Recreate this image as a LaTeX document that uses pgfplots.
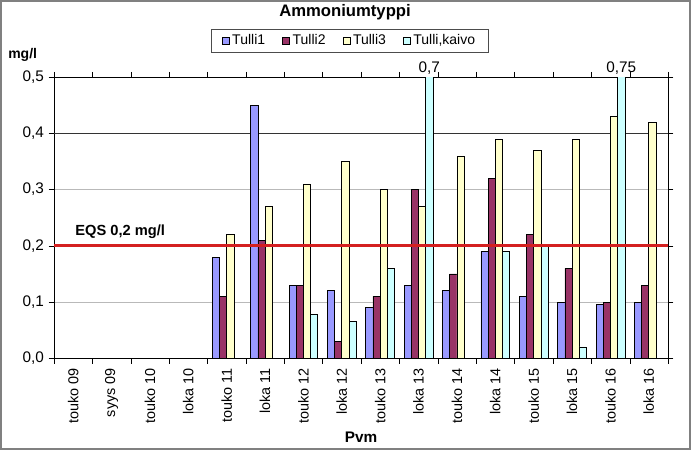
\documentclass[border=0pt]{standalone}
\usepackage{fontspec}
\setmainfont{Liberation Sans}
\usepackage{pgfplots}
\pgfplotsset{compat=1.18}
\definecolor{tA}{HTML}{9999FF}
\definecolor{tB}{HTML}{993366}
\definecolor{tC}{HTML}{FFFFCC}
\definecolor{tD}{HTML}{CCFFFF}
\definecolor{eqs}{HTML}{D42020}
\definecolor{frm}{HTML}{808080}
\begin{document}
\begin{tikzpicture}
\draw[frm, line width=1.5pt] (0.75pt,0.75pt) rectangle (517.5pt,336.75pt);
\node[font=\bfseries\fontsize{12.5}{14}\selectfont] at (258.75pt,328.5pt) {Ammoniumtyppi};
\node[font=\bfseries\fontsize{10.5}{12}\selectfont] at (17pt,296.25pt) {mg/l};
\node[font=\bfseries\fontsize{11.5}{13}\selectfont] at (270.75pt,10pt) {Pvm};
\begin{axis}[
    at={(40.5pt,69pt)}, anchor=south west,
    scale only axis, width=460.5pt, height=210.75pt,
    xmin=-0.5, xmax=15.5, ymin=0, ymax=0.5,
    clip mode=individual,
    axis line style={black},
    tick align=outside,
    xtick={0,...,15},
    xticklabels={touko 09, syys 09, touko 10, loka 10, touko 11, loka 11, touko 12, loka 12, touko 13, loka 13, touko 14, loka 14, touko 15, loka 15, touko 16, loka 16},
    x tick label style={rotate=90, anchor=east, font=\fontsize{10.8}{12}\selectfont},
    major x tick style={draw=none},
    minor xtick={-0.5,0.5,...,15.5},
    minor x tick style={black},
    minor tick length=4pt,
    ytick={0,0.1,...,0.5},
    major tick length=4pt,
    y tick style={black},
    y tick label style={font=\fontsize{11.5}{13}\selectfont},
    /pgf/number format/.cd, use comma, fixed, fixed zerofill, precision=1, assume math mode=true,
    /pgfplots/.cd,
    ymajorgrids, grid style={gray!55, line width=0.6pt},
    extra y ticks={0.4}, extra y tick labels={},
    extra y tick style={grid style={black!80, line width=0.6pt}, major tick length=0pt},
    legend columns=4,
    legend style={at={(0.482,1.13)}, anchor=center, draw=black!70,
        font=\fontsize{10.5}{12}\selectfont, /tikz/every even column/.append style={column sep=11pt},
        inner xsep=8pt, inner ysep=2pt},
    legend image code/.code={\draw[#1, line width=0.4pt] (0pt,-2.6pt) rectangle (5.2pt,2.6pt);},
]
\addplot[ybar, bar width=0.1875, bar shift=-0.28125, fill=tA, draw=black, line width=0.5pt]
  coordinates {(4,0.18) (5,0.45) (6,0.13) (7,0.12) (8,0.09) (9,0.13) (10,0.12) (11,0.19) (12,0.11) (13,0.10) (14,0.095) (15,0.10)};
\addlegendentry{Tulli1}
\addplot[ybar, bar width=0.1875, bar shift=-0.09375, fill=tB, draw=black, line width=0.5pt]
  coordinates {(4,0.11) (5,0.21) (6,0.13) (7,0.03) (8,0.11) (9,0.30) (10,0.15) (11,0.32) (12,0.22) (13,0.16) (14,0.10) (15,0.13)};
\addlegendentry{Tulli2}
\addplot[ybar, bar width=0.1875, bar shift=0.09375, fill=tC, draw=black, line width=0.5pt]
  coordinates {(4,0.22) (5,0.27) (6,0.31) (7,0.35) (8,0.30) (9,0.27) (10,0.36) (11,0.39) (12,0.37) (13,0.39) (14,0.43) (15,0.42)};
\addlegendentry{Tulli3}
\addplot[ybar, bar width=0.1875, bar shift=0.28125, fill=tD, draw=black, line width=0.5pt]
  coordinates {(6,0.078) (7,0.065) (8,0.16) (9,0.70) (11,0.19) (12,0.20) (13,0.02) (14,0.75)};
\addlegendentry{Tulli,kaivo}
\addplot[eqs, line width=2.2pt, forget plot] coordinates {(-0.5,0.2) (15.5,0.2)};
\node[anchor=south west, font=\bfseries\fontsize{11}{13}\selectfont, inner sep=0pt] at (axis cs:0.05,0.213) {EQS 0,2 mg/l};
\node[anchor=south, font=\fontsize{11.5}{13}\selectfont, inner sep=1.5pt] at (axis cs:9.28125,0.5) {0,7};
\node[anchor=south, font=\fontsize{11.5}{13}\selectfont, inner sep=1.5pt] at (axis cs:14.28125,0.5) {0,75};
\end{axis}
\end{tikzpicture}
\end{document}
